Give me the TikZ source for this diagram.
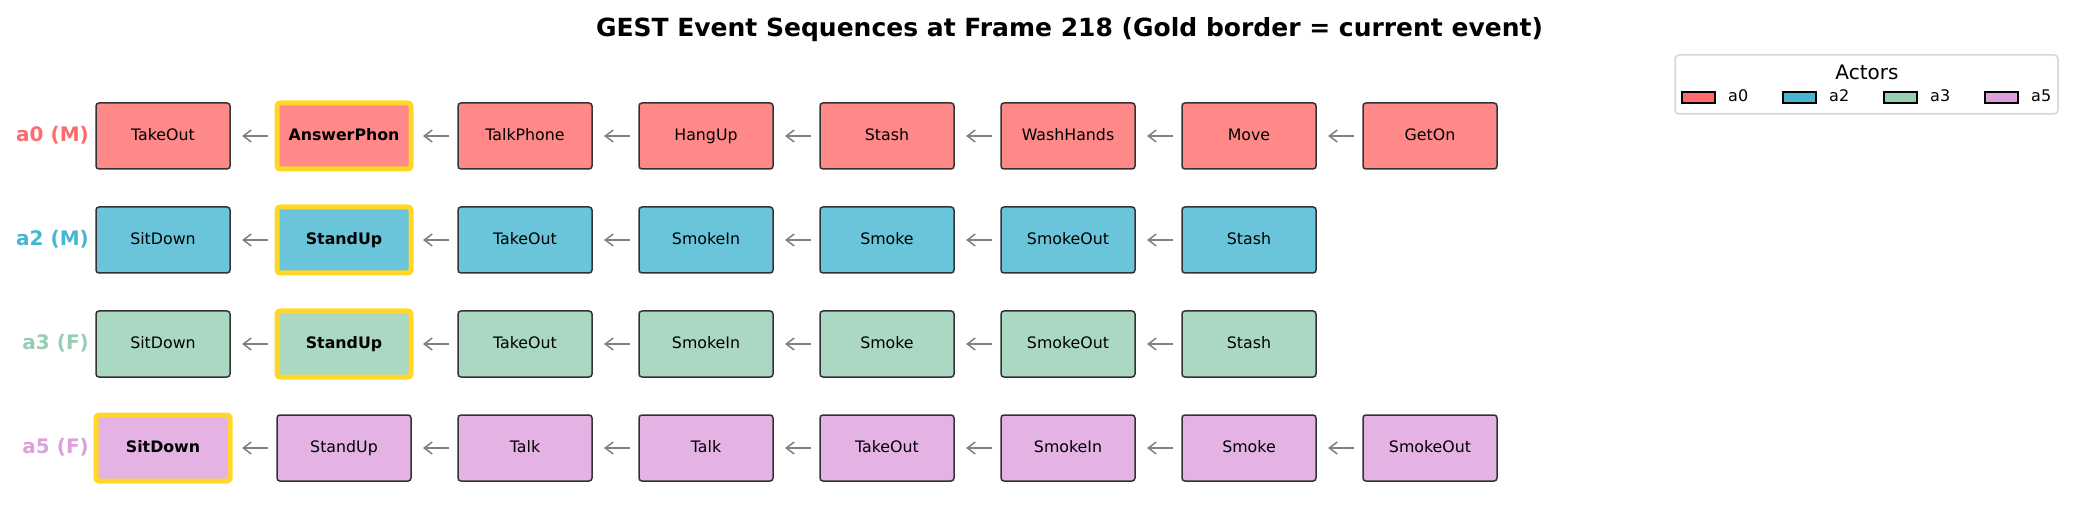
\documentclass[tikz,border=0pt]{standalone}
\usepackage{fontspec}
\setmainfont{DejaVu Sans}
\usetikzlibrary{arrows.meta}
\definecolor{cA}{HTML}{FF6B6B}
\definecolor{cB}{HTML}{45B7D1}
\definecolor{cC}{HTML}{96CEB4}
\definecolor{cD}{HTML}{DDA0DD}
\definecolor{fA}{HTML}{FF8989}
\definecolor{fB}{HTML}{6AC5DA}
\definecolor{fC}{HTML}{ABD8C3}
\definecolor{fD}{HTML}{E4B3E4}
\definecolor{edgec}{HTML}{333333}
\definecolor{goldc}{HTML}{FFD728}
\definecolor{arrc}{HTML}{808080}
\definecolor{legc}{HTML}{D6D6D6}
\tikzset{
  ev/.style={draw=edgec, line width=1.5bp, rounded corners=3bp, minimum width=134bp, minimum height=66bp, inner sep=0pt, outer sep=0pt, text height=12bp, text depth=3.3bp, font=\fontsize{15.8bp}{18bp}\selectfont},
  evcur/.style={ev, draw=goldc, line width=5bp, font=\fontsize{15.8bp}{18bp}\selectfont\bfseries},
  arr/.style={draw=arrc, line width=1.5bp, -{Straight Barb[length=8bp,width=12bp]}, shorten <=9bp, shorten >=12bp},
  actor/.style={anchor=east, inner sep=0pt, text height=15.2bp, text depth=4.2bp, font=\fontsize{20bp}{22bp}\selectfont\bfseries},
  patch/.style={draw=black, line width=1.5bp, minimum width=33bp, minimum height=11bp, inner sep=0pt, outer sep=0pt},
  legtxt/.style={anchor=west, inner sep=0pt, text height=12.2bp, text depth=3.4bp, font=\fontsize{16bp}{18bp}\selectfont},
}
\begin{document}
\begin{tikzpicture}[x=1bp,y=-1bp]
\useasboundingbox (0,0) rectangle (2081,508);
% title
\node[anchor=base, inner sep=0pt, font=\fontsize{25bp}{28bp}\selectfont\bfseries] (title) at (1069.5,36.7) {GEST Event Sequences at Frame 218 (Gold border = current event)};
% row a0
\node[actor, text=cA] (l0) at (89,136) {a0 (M)};
\foreach \n/\s [count=\i from 0] in {TakeOut/ev,AnswerPhon/evcur,TalkPhone/ev,HangUp/ev,Stash/ev,WashHands/ev,Move/ev,GetOn/ev}
  \node[\s, fill=fA] (a0-\i) at ({163+181*\i},136) {\n};
\foreach \i in {1,...,7} {
  \pgfmathtruncatemacro{\j}{\i-1}
  \draw[arr] (a0-\i.west) -- (a0-\j.east);
}
% row a2
\node[actor, text=cB] (l2) at (89,240) {a2 (M)};
\foreach \n/\s [count=\i from 0] in {SitDown/ev,StandUp/evcur,TakeOut/ev,SmokeIn/ev,Smoke/ev,SmokeOut/ev,Stash/ev}
  \node[\s, fill=fB] (a2-\i) at ({163+181*\i},240) {\n};
\foreach \i in {1,...,6} {
  \pgfmathtruncatemacro{\j}{\i-1}
  \draw[arr] (a2-\i.west) -- (a2-\j.east);
}
% row a3
\node[actor, text=cC] (l3) at (89,344) {a3 (F)};
\foreach \n/\s [count=\i from 0] in {SitDown/ev,StandUp/evcur,TakeOut/ev,SmokeIn/ev,Smoke/ev,SmokeOut/ev,Stash/ev}
  \node[\s, fill=fC] (a3-\i) at ({163+181*\i},344) {\n};
\foreach \i in {1,...,6} {
  \pgfmathtruncatemacro{\j}{\i-1}
  \draw[arr] (a3-\i.west) -- (a3-\j.east);
}
% row a5
\node[actor, text=cD] (l5) at (89,448) {a5 (F)};
\foreach \n/\s [count=\i from 0] in {SitDown/evcur,StandUp/ev,Talk/ev,Talk/ev,TakeOut/ev,SmokeIn/ev,Smoke/ev,SmokeOut/ev}
  \node[\s, fill=fD] (a5-\i) at ({163+181*\i},448) {\n};
\foreach \i in {1,...,7} {
  \pgfmathtruncatemacro{\j}{\i-1}
  \draw[arr] (a5-\i.west) -- (a5-\j.east);
}
% legend
\draw[draw=legc, line width=1.5bp, rounded corners=4bp, fill=white] (1675,55) rectangle (2058,114);
\node[inner sep=0pt, font=\fontsize{20bp}{22bp}\selectfont] (legtitle) at (1867,72) {Actors};
\node[patch, fill=cA] (p0) at (1698.5,97.5) {};
\node[legtxt] (t0) at (1728,97.5) {a0};
\node[patch, fill=cB] (p2) at (1799.5,97.5) {};
\node[legtxt] (t2) at (1829,97.5) {a2};
\node[patch, fill=cC] (p3) at (1900.5,97.5) {};
\node[legtxt] (t3) at (1930,97.5) {a3};
\node[patch, fill=cD] (p5) at (2001.5,97.5) {};
\node[legtxt] (t5) at (2031,97.5) {a5};
\end{tikzpicture}
\end{document}
